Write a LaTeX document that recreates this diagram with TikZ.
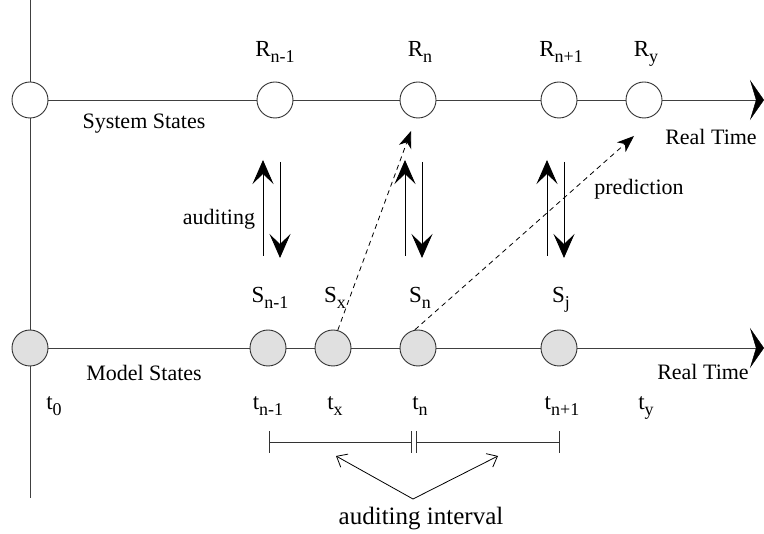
\documentclass[tikz,border=0pt]{standalone}
\usepackage{fontspec}
\setmainfont{Liberation Serif}
\usetikzlibrary{arrows.meta,backgrounds}
\newcommand{\lowsub}[1]{\raisebox{-6pt}{\fontsize{18}{20}\selectfont #1}}
\begin{document}
\begin{tikzpicture}[x=1pt,y=-1pt, line width=0.9pt,
  axis/.style={draw=black!75},
  state/.style={circle, draw=black!80, minimum size=36pt, inner sep=0pt, fill=white},
  mstate/.style={state, fill=black!12},
  lbl/.style={anchor=base, font=\fontsize{23}{27}\selectfont, inner sep=0pt},
  txt/.style={anchor=base, font=\fontsize{22}{26}\selectfont, inner sep=0pt},
  bigtip/.style={-{Stealth[length=24pt,width=21pt,inset=10pt]}},
  maintip/.style={-{Stealth[length=14pt,width=40pt,inset=6pt,black]}},
  dtip/.style={-{Stealth[length=17pt,width=13pt,inset=5pt]}, dash pattern=on 5pt off 4pt, line width=0.8pt},
  otip/.style={-{Straight Barb[length=9pt,width=15pt]}, line width=0.8pt}
]
\useasboundingbox (0,0) rectangle (764,534);

% system states
\node[state] (r0) at (30,100) {};
\node[state] (r1) at (275,100) {};
\node[state] (r2) at (418,100) {};
\node[state] (r3) at (559,100) {};
\node[state] (r4) at (644,100) {};
% model states
\node[mstate] (s0) at (30,348) {};
\node[mstate] (s1) at (268,348) {};
\node[mstate] (sx) at (333,348) {};
\node[mstate] (s2) at (418,348) {};
\node[mstate] (s3) at (559,348) {};

\coordinate (vtop) at (30,0);
\coordinate (vbot) at (30,498);
\coordinate (endtop) at (764,100);
\coordinate (endbot) at (764,348);

\begin{scope}[on background layer]
  \draw[axis] (vtop) -- (vbot);
  \draw[axis, maintip] (r0) -- (endtop);
  \draw[axis, maintip] (s0) -- (endbot);
\end{scope}

% labels
\node[lbl] (lr1) at (275,57) {R\lowsub{n-1}};
\node[lbl] (lr2) at (420,57) {R\lowsub{n}};
\node[lbl] (lr3) at (561,57) {R\lowsub{n+1}};
\node[lbl] (lr4) at (646,57) {R\lowsub{y}};

\node[lbl] (ls1) at (270,303) {S\lowsub{n-1}};
\node[lbl] (lsx) at (335,303) {S\lowsub{x}};
\node[lbl] (ls2) at (420,303) {S\lowsub{n}};
\node[lbl] (ls3) at (561,303) {S\lowsub{j}};

\node[lbl] (lt0) at (54,410) {t\lowsub{0}};
\node[lbl] (lt1) at (268,410) {t\lowsub{n-1}};
\node[lbl] (ltx) at (335,410) {t\lowsub{x}};
\node[lbl] (lt2) at (420,410) {t\lowsub{n}};
\node[lbl] (lt3) at (562,410) {t\lowsub{n+1}};
\node[lbl] (lty) at (646,410) {t\lowsub{y}};

\node[txt] (sys) at (144,129) {System States};
\node[txt] (mod) at (144,381) {Model States};
\node[txt] (rt1) at (711,145) {Real Time};
\node[txt] (rt2) at (703,380) {Real Time};
\node[txt] (aud) at (219,225) {auditing};
\node[txt] (pred) at (639,195) {prediction};
\node[txt, font=\fontsize{25}{29}\selectfont] (ai) at (421,525) {auditing interval};

% auditing arrows
\foreach \i/\xu/\xd in {1/263/280, 2/405/422, 3/547/564} {
  \coordinate (u\i b) at (\xu,256);
  \coordinate (u\i t) at (\xu,160);
  \coordinate (d\i t) at (\xd,162);
  \coordinate (d\i b) at (\xd,258);
  \draw[bigtip] (u\i b) -- (u\i t);
  \draw[bigtip] (d\i t) -- (d\i b);
}

% predictions
\coordinate (p1) at (411,131);
\coordinate (p2) at (634,136);
\draw[dtip] (sx.75) -- (p1);
\draw[dtip] (s2.100) -- (p2);

% interval
\coordinate (ia) at (269,442);
\coordinate (ib) at (411,442);
\coordinate (ic) at (416,442);
\coordinate (id) at (559,442);
\draw[black!80] (ia) -- (ib) (ic) -- (id);
\foreach \c in {ia,ib,ic,id} \draw[black!80] ([yshift=-11pt]\c) -- ([yshift=11pt]\c);

\coordinate (apex) at (413,499);
\coordinate (al) at (336,456);
\coordinate (ar) at (498,456);
\draw[otip] (apex) -- (al);
\draw[otip] (apex) -- (ar);
\end{tikzpicture}
\end{document}
